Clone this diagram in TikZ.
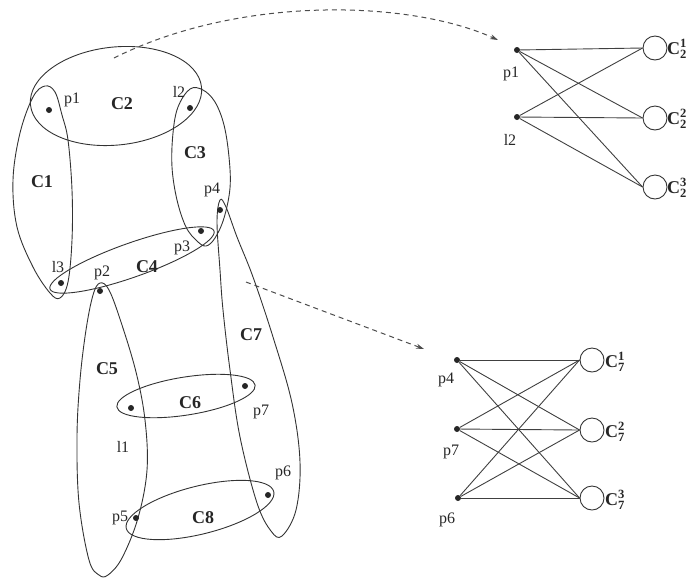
\documentclass[tikz,border=0pt]{standalone}
\usepackage{fontspec}
\setmainfont{Liberation Serif}
\usetikzlibrary{arrows.meta}
\tikzset{
  hedge/.style={draw=black!80, line width=0.9pt},
  dotnode/.style={circle, fill=black!85, inner sep=0pt, minimum size=6pt},
  cnode/.style={circle, draw=black!80, line width=0.9pt, inner sep=0pt, minimum size=24pt},
  lbl/.style={font=\fontsize{16}{18}\selectfont, text=black!85, inner sep=1pt},
  clbl/.style={font=\fontsize{18}{20}\selectfont\bfseries, text=black!85, inner sep=1pt},
  link/.style={draw=black!75, line width=0.9pt},
  dasharrow/.style={draw=black!70, line width=1pt, dash pattern=on 5pt off 4pt, -{Stealth[length=8pt,width=5pt]}}
}
\begin{document}
\begin{tikzpicture}[x=1pt,y=-1pt]
\useasboundingbox (0,0) rectangle (700,582);

% hyperedges
% C2
\draw[hedge, rotate around={6:(116,96)}] (116,96) ellipse [x radius=86, y radius=49];
% C1
\draw[hedge] plot[smooth cycle, tension=0.6] coordinates {
 (45,86) (55,92) (62,115) (68,140) (72,190) (72,240) (68,282) (60,298) (50,293)
 (33,267) (17,227) (13,180) (20,133) (33,97)};
% C3
\draw[hedge] plot[smooth cycle, tension=0.6] coordinates {
 (190,89) (203,90) (215,102) (224,125) (229,157) (230,188) (224,218) (215,238) (206,246)
 (197,241) (186,227) (177,200) (172,167) (173,133) (178,107)};
% C4
\draw[hedge, rotate around={19.5:(132,260)}] (132,260) ellipse [x radius=87, y radius=17];
% C5
\draw[hedge] plot[smooth cycle, tension=0.6] coordinates {
 (100,283) (109,290) (121,322) (136,372) (145,420) (147,470) (138,518) (122,558) (108,575)
 (99,575) (89,560) (79,503) (77,437) (80,380) (86,330) (93,295)};
% C6
\draw[hedge, rotate around={9:(186,396)}] (186,396) ellipse [x radius=70, y radius=19];
% C7
\draw[hedge] plot[smooth cycle, tension=0.6] coordinates {
 (220,200) (226,207) (237,237) (253,277) (273,337) (292,403) (300,462) (296,510) (282,536)
 (271,531) (257,503) (240,437) (230,370) (223,310) (220,270) (217,222)};
% C8
\draw[hedge, rotate around={14:(200,510)}] (200,510) ellipse [x radius=76, y radius=24];

% vertices
\node[dotnode] (p1) at (49,110) {};
\node[dotnode] (l2) at (190,108) {};
\node[dotnode] (p4) at (220,210) {};
\node[dotnode] (p3) at (201,231) {};
\node[dotnode] (l3) at (61,283) {};
\node[dotnode] (p2) at (100,291) {};
\node[dotnode] (l1) at (131,408) {};
\node[dotnode] (p7) at (245,386) {};
\node[dotnode] (p6) at (268,495) {};
\node[dotnode] (p5) at (136,518) {};

% vertex labels
\node[lbl] at (72,100) {p1};
\node[lbl] at (179,92) {l2};
\node[lbl] at (212,190) {p4};
\node[lbl] at (182,248) {p3};
\node[lbl] at (58,267) {l3};
\node[lbl] at (102,273) {p2};
\node[lbl] at (261,412) {p7};
\node[lbl] at (123,447) {l1};
\node[lbl] at (283,473) {p6};
\node[lbl] at (120,518) {p5};

% hyperedge labels
\node[clbl] at (122,104) {C2};
\node[clbl] at (42,182) {C1};
\node[clbl] at (195,153) {C3};
\node[clbl] at (147,267) {C4};
\node[clbl] at (107,369) {C5};
\node[clbl] at (190,403) {C6};
\node[clbl] at (251,335) {C7};
\node[clbl] at (203,518) {C8};

% dashed arrows
\coordinate (a1s) at (114,58);
\coordinate (a1e) at (498,40);
\draw[dasharrow] (a1s) .. controls (240,-5) and (410,0) .. (a1e);
\coordinate (a2s) at (246,282);
\coordinate (a2e) at (424,349);
\draw[dasharrow] (a2s) -- (a2e);

% top bipartite graph
\node[dotnode] (q1) at (517,50) {};
\node[dotnode] (q2) at (517,117) {};
\node[lbl] at (511,74) {p1};
\node[lbl] at (510,140) {l2};
\node[cnode] (c21) at (655,48) {};
\node[cnode] (c22) at (655,118) {};
\node[cnode] (c23) at (655,187) {};
\node[clbl, anchor=west] at (666,49) {C$^{\mathbf{1}}_{\mathbf{2}}$};
\node[clbl, anchor=west] at (666,119) {C$^{\mathbf{2}}_{\mathbf{2}}$};
\node[clbl, anchor=west] at (666,188) {C$^{\mathbf{3}}_{\mathbf{2}}$};
\foreach \a in {q1,q2}{
  \foreach \b in {c21,c22,c23}{
    \draw[link] (\a) -- (\b.west);
  }
}

% bottom bipartite graph
\node[dotnode] (r4) at (457,360) {};
\node[dotnode] (r7) at (457,429) {};
\node[dotnode] (r6) at (458,498) {};
\node[lbl] at (446,380) {p4};
\node[lbl] at (451,452) {p7};
\node[lbl] at (447,520) {p6};
\node[cnode] (c71) at (592,360) {};
\node[cnode] (c72) at (592,430) {};
\node[cnode] (c73) at (592,498) {};
\node[clbl, anchor=west] at (604,362) {C$^{\mathbf{1}}_{\mathbf{7}}$};
\node[clbl, anchor=west] at (604,432) {C$^{\mathbf{2}}_{\mathbf{7}}$};
\node[clbl, anchor=west] at (604,500) {C$^{\mathbf{3}}_{\mathbf{7}}$};
\foreach \a in {r4,r7,r6}{
  \foreach \b in {c71,c72,c73}{
    \draw[link] (\a) -- (\b.west);
  }
}
\end{tikzpicture}
\end{document}
